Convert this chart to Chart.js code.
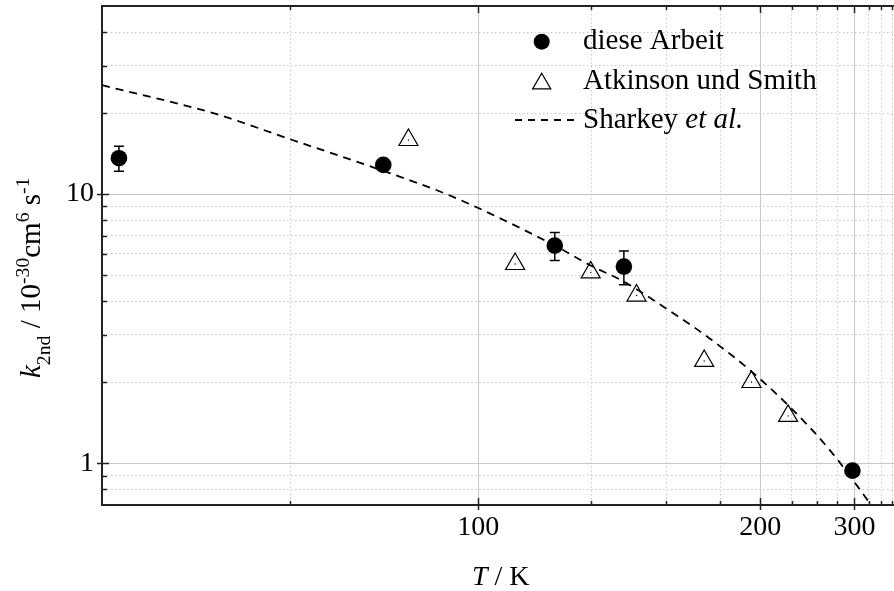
<!DOCTYPE html>
<html>
<head>
<meta charset="utf-8">
<script src="https://cdn.jsdelivr.net/npm/chart.js@4/dist/chart.umd.min.js"></script>
<style>
html,body{margin:0;padding:0;background:#fff;overflow:hidden}
#wrap{width:894px;height:591px;position:relative}
</style>
</head>
<body>
<div id="wrap"><canvas id="c" width="894" height="591"></canvas></div>
<script>
// ---------- data ----------
const thisWorkT   = [61.1, 85.6, 115.7, 134.8, 296.9];
const thisWorkK   = [13.6, 12.84, 6.44, 5.38, 0.939];
const thisWorkErr = [1.45, 0, 0.77, 0.77, 0];

const atkinsonT = [89.0, 107.0, 124.9, 139.0, 166.8, 193.9, 221.8];
const atkinsonK = [15.89, 5.50, 5.12, 4.20, 2.40, 2.005, 1.50];

const sharkeyT = [60, 68.2, 75, 85.6, 94.7, 102.1, 115.7, 124.9, 134.8, 150.1, 166.3, 192.8, 223.3, 265.3, 326.7, 345];
const sharkeyK = [25.4, 19.9, 16.0, 12.2, 10.0, 8.48, 6.44, 5.43, 4.73, 3.75, 3.03, 2.22, 1.62, 1.12, 0.711, 0.636];

const seriesNames = ['diese Arbeit', 'Atkinson und Smith', 'Sharkey'];
const seriesNameItalicSuffix = ['', '', 'et al.'];

const xMajorTicks = [100, 200, 300];
const xMinorTicks = [75, 125, 150, 175, 225, 250, 275, 325, 350, 375];
const yMajorTicks = [1, 10];
const yMinorTicks = [0.8, 0.9, 2, 3, 4, 5, 6, 7, 8, 9, 20, 30, 40];

const xRange = [60, 380];   // temperature range shown (K)
const yRange = [0.7, 50];

const xTitle = [{t: 'T', it: true}, {t: ' / K'}];
const yTitle = [
  {t: 'k', it: true}, {t: '2nd', s: 0.68, dy: 10},
  {t: ' / 10'}, {t: '-30', s: 0.68, dy: -11},
  {t: 'cm'}, {t: '6', s: 0.68, dy: -11},
  {t: ' s'}, {t: '-1', s: 0.68, dy: -11}
];

// ---------- helpers ----------
const SERIF = '"Liberation Serif", "Times New Roman", Times, serif';
const toXY = (Ts, ks) => Ts.map((T, i) => ({x: 1 / T, y: ks[i]}));
const isMajorX = v => xMajorTicks.includes(Math.round(1 / v));
const isMajorY = v => yMajorTicks.some(m => Math.abs(m - v) < 1e-9);
const GRID_MAJOR = '#c8c8c8';
const GRID_MINOR = '#c8c8c8';
const AXIS = '#222';
const DASH = [8, 6];

function drawRich(ctx, parts, x, y, size) {
  let cx = x;
  for (const p of parts) {
    const s = p.s ? size * p.s : size;
    ctx.font = (p.it ? 'italic ' : '') + s + 'px ' + SERIF;
    ctx.fillText(p.t, cx, y + (p.dy || 0));
    cx += ctx.measureText(p.t).width;
  }
  return cx;
}

const decor = {
  id: 'decor',
  afterDatasetsDraw(chart) {
    const {ctx, scales: {x, y}} = chart;
    ctx.save();
    ctx.strokeStyle = '#000';
    ctx.lineWidth = 1.5;
    thisWorkT.forEach((T, i) => {
      const e = thisWorkErr[i];
      if (!e) return;
      const px = x.getPixelForValue(1 / T);
      const top = y.getPixelForValue(thisWorkK[i] + e);
      const bot = y.getPixelForValue(thisWorkK[i] - e);
      ctx.beginPath();
      ctx.moveTo(px, top); ctx.lineTo(px, bot);
      ctx.moveTo(px - 5, top); ctx.lineTo(px + 5, top);
      ctx.moveTo(px - 5, bot); ctx.lineTo(px + 5, bot);
      ctx.stroke();
    });
    ctx.restore();
  },
  afterDraw(chart) {
    const {ctx, chartArea: a, scales: {x, y}} = chart;
    ctx.save();
    // top axis line
    ctx.strokeStyle = AXIS;
    ctx.lineWidth = 2;
    ctx.beginPath();
    ctx.moveTo(a.left - 1, a.top);
    ctx.lineTo(a.right, a.top);
    ctx.stroke();
    // tick marks
    ctx.lineWidth = 1.5;
    ctx.beginPath();
    x.ticks.forEach(t => {
      const px = Math.round(x.getPixelForValue(t.value)) + 0.5;
      const maj = isMajorX(t.value);
      ctx.moveTo(px, a.bottom - (maj ? 7 : 4)); ctx.lineTo(px, a.bottom + (maj ? 5 : 0));
      ctx.moveTo(px, a.top); ctx.lineTo(px, a.top + (maj ? 7 : 4));
    });
    y.ticks.forEach(t => {
      const py = Math.round(y.getPixelForValue(t.value)) + 0.5;
      const maj = isMajorY(t.value);
      ctx.moveTo(a.left - (maj ? 5 : 0), py); ctx.lineTo(a.left + (maj ? 7 : 5), py);
    });
    ctx.stroke();

    // legend
    ctx.fillStyle = '#000';
    ctx.strokeStyle = '#000';
    const rowsY = [41.7, 81.7, 120];
    const mx = 541.7, tx = 583;
    ctx.beginPath(); ctx.arc(mx, rowsY[0], 8, 0, Math.PI * 2); ctx.fill();
    const r = 10.5;
    ctx.lineWidth = 1.2;
    ctx.beginPath();
    for (let k = 0; k < 3; k++) {
      const ang = k * 2 * Math.PI / 3;
      const px = mx + Math.sin(ang) * r, py = rowsY[1] + 2 - Math.cos(ang) * r;
      if (k === 0) ctx.moveTo(px, py); else ctx.lineTo(px, py);
    }
    ctx.closePath(); ctx.stroke();
    ctx.lineWidth = 1.8;
    ctx.setLineDash([7, 6]);
    ctx.beginPath(); ctx.moveTo(515, rowsY[2]); ctx.lineTo(578, rowsY[2]); ctx.stroke();
    ctx.setLineDash([]);
    ctx.textBaseline = 'middle';
    seriesNames.forEach((n, i) => {
      const parts = [{t: n}];
      if (seriesNameItalicSuffix[i]) { parts[0].t = n + ' '; parts.push({t: seriesNameItalicSuffix[i], it: true}); }
      drawRich(ctx, parts, tx, rowsY[i], 29);
    });

    // axis titles
    ctx.textBaseline = 'alphabetic';
    drawRich(ctx, xTitle, 472, 585, 28);
    ctx.translate(40, 378);
    ctx.rotate(-Math.PI / 2);
    drawRich(ctx, yTitle, 0, 0, 29);
    ctx.restore();
  }
};

Chart.defaults.color = '#000';
Chart.defaults.font.family = SERIF;

new Chart(document.getElementById('c'), {
  data: {
    datasets: [
      {
        type: 'scatter', label: seriesNames[0], data: toXY(thisWorkT, thisWorkK),
        pointStyle: 'circle', pointRadius: 8.3, backgroundColor: '#000', borderColor: '#000',
        borderWidth: 0, order: 1
      },
      {
        type: 'scatter', label: seriesNames[1], data: toXY(atkinsonT, atkinsonK),
        pointStyle: 'triangle', pointRadius: 11, backgroundColor: 'rgba(0,0,0,0)', borderColor: '#000',
        borderWidth: 1.2, order: 2
      },
      {
        type: 'scatter', label: 'centre', data: toXY(atkinsonT, atkinsonK),
        pointStyle: 'circle', pointRadius: 0.7, backgroundColor: '#000', borderWidth: 0, order: 2
      },
      {
        type: 'line', label: seriesNames[2], data: toXY(sharkeyT, sharkeyK),
        borderColor: '#000', borderWidth: 1.8, borderDash: DASH, pointRadius: 0,
        cubicInterpolationMode: 'monotone', fill: false, order: 3
      }
    ]
  },
  options: {
    responsive: false,
    animation: false,
    devicePixelRatio: 1,
    layout: {autoPadding: false, padding: {top: 6, right: 0, left: 0, bottom: 0}},
    plugins: {legend: {display: false}, tooltip: {enabled: false}},
    scales: {
      x: {
        type: 'linear', position: 'bottom', reverse: true,
        min: 1 / xRange[1], max: 1 / xRange[0],
        afterBuildTicks: s => { s.ticks = [...xMajorTicks, ...xMinorTicks].sort((p, q) => q - p).map(T => ({value: 1 / T})); },
        afterFit: s => { s.height = 86; s.paddingLeft = 0; s.paddingRight = 0; },
        ticks: {
          autoSkip: false, maxRotation: 0, padding: 6,
          font: {size: 28, family: SERIF}, color: '#000',
          callback: v => { const T = Math.round(1 / v); return xMajorTicks.includes(T) ? String(T) : ''; }
        },
        grid: {
          drawTicks: false,
          color: c => (c.tick && isMajorX(c.tick.value)) ? GRID_MAJOR : GRID_MINOR,
          lineWidth: 1
        },
        border: {
          display: true, color: AXIS, width: 2,
          dash: c => (c.tick && !isMajorX(c.tick.value)) ? [1.5, 2.5] : []
        }
      },
      y: {
        type: 'logarithmic', position: 'left',
        min: yRange[0], max: yRange[1],
        afterBuildTicks: s => { s.ticks = [...yMajorTicks, ...yMinorTicks].sort((p, q) => p - q).map(v => ({value: v})); },
        afterFit: s => { s.width = 102; s.paddingTop = 0; s.paddingBottom = 0; },
        ticks: {
          autoSkip: false, padding: 8,
          font: {size: 28, family: SERIF}, color: '#000',
          callback: v => isMajorY(v) ? String(v) : ''
        },
        grid: {
          drawTicks: false,
          color: c => (c.tick && isMajorY(c.tick.value)) ? GRID_MAJOR : GRID_MINOR,
          lineWidth: 1
        },
        border: {
          display: true, color: AXIS, width: 2,
          dash: c => (c.tick && !isMajorY(c.tick.value)) ? [1.5, 2.5] : []
        }
      }
    }
  },
  plugins: [decor]
});
</script>
</body>
</html>
